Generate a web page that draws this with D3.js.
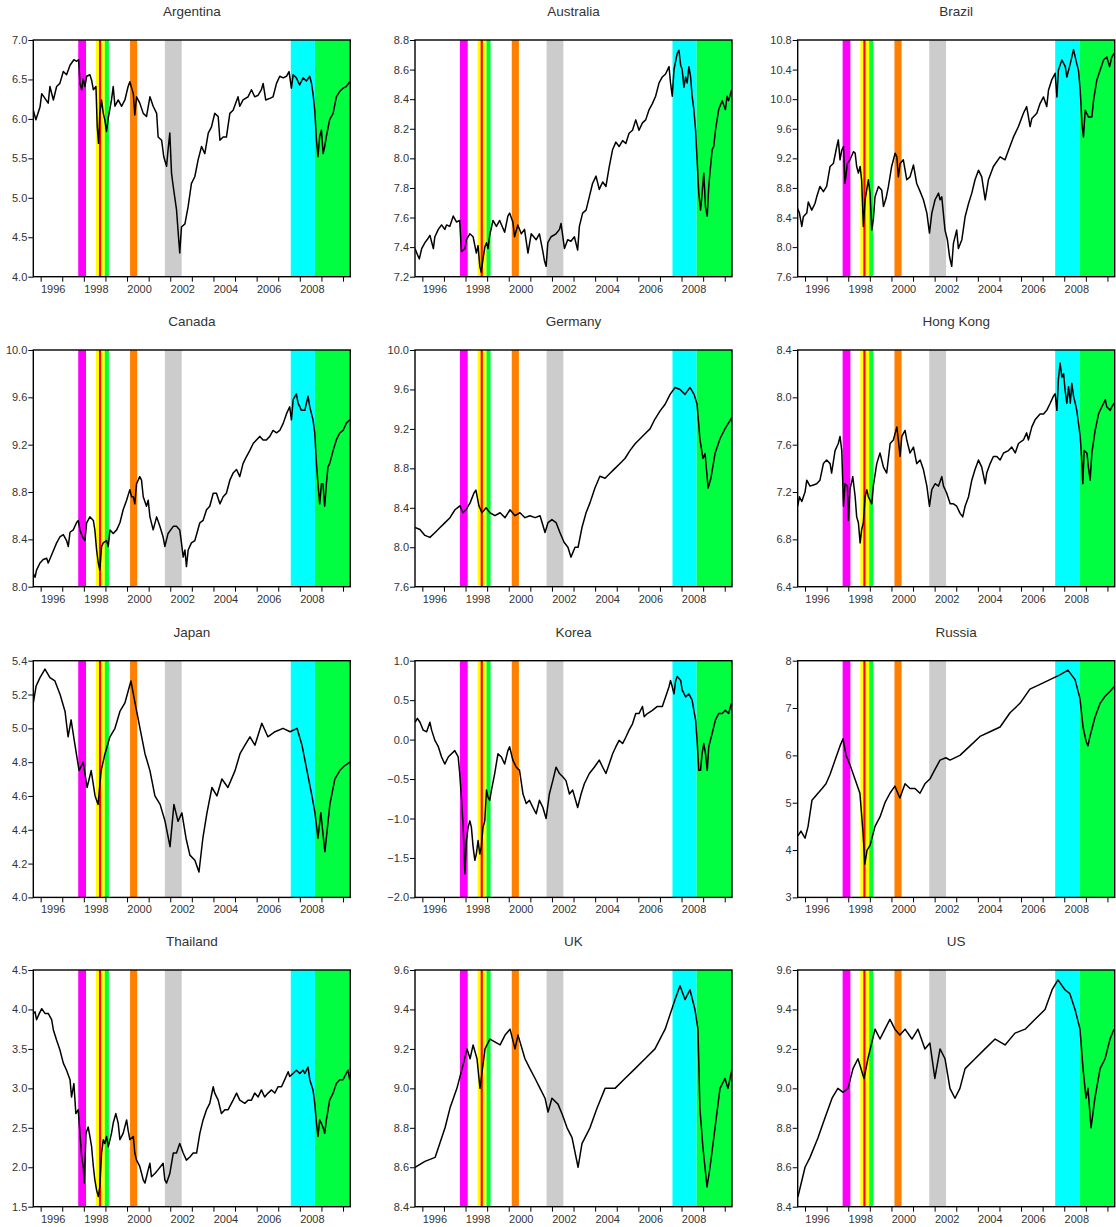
<!DOCTYPE html>
<html>
<head>
<meta charset="utf-8">
<script src="https://cdn.jsdelivr.net/npm/d3@7"></script>
<style>
body { margin: 0; background: #fff; }
svg text { font-family: "Liberation Sans", Arial, sans-serif; }
</style>
</head>
<body>
<svg id="chart" width="1116" height="1227"></svg>
<script>
// ---- data (decimal year, log index level) ----
var countries = ["Argentina", "Australia", "Brazil", "Canada", "Germany", "Hong Kong",
                 "Japan", "Korea", "Russia", "Thailand", "UK", "US"];

var yTicks = [
  [4.0, 4.5, 5.0, 5.5, 6.0, 6.5, 7.0],
  [7.2, 7.4, 7.6, 7.8, 8.0, 8.2, 8.4, 8.6, 8.8],
  [7.6, 8.0, 8.4, 8.8, 9.2, 9.6, 10.0, 10.4, 10.8],
  [8.0, 8.4, 8.8, 9.2, 9.6, 10.0],
  [7.6, 8.0, 8.4, 8.8, 9.2, 9.6, 10.0],
  [6.4, 6.8, 7.2, 7.6, 8.0, 8.4],
  [4.0, 4.2, 4.4, 4.6, 4.8, 5.0, 5.2, 5.4],
  [-2.0, -1.5, -1.0, -0.5, 0.0, 0.5, 1.0],
  [3, 4, 5, 6, 7, 8],
  [1.5, 2.0, 2.5, 3.0, 3.5, 4.0, 4.5],
  [8.4, 8.6, 8.8, 9.0, 9.2, 9.4, 9.6],
  [8.4, 8.6, 8.8, 9.0, 9.2, 9.4, 9.6]
];

var years = [1996, 1997, 1998, 1999, 2000, 2001, 2002, 2003, 2004, 2005, 2006, 2007, 2008, 2009, 2010];
var yearLabels = [1996, 1998, 2000, 2002, 2004, 2006, 2008];

// crisis windows
var bandStart = [1997.74, 1998.56, 1998.70, 1998.97, 2000.14, 2001.75, 2007.58, 2008.70];
var bandEnd   = [1998.10, 1998.97, 1998.80, 1999.16, 2000.47, 2002.53, 2008.70, 2010.40];
var bandColor = ["#ff00ff", "#ffff00", "#ff0000", "#00ff33", "#ff8000", "#cccccc", "#00ffff", "#00ff40"];

var argentina = [[1995.66,6.11],[1995.78,5.99],[1995.97,6.15],[1996.05,6.32],[1996.2,6.26],[1996.35,6.2],[1996.43,6.41],[1996.59,6.24],[1996.74,6.41],[1996.89,6.45],[1997.05,6.6],[1997.2,6.56],[1997.36,6.68],[1997.54,6.75],[1997.66,6.73],[1997.76,6.75],[1997.82,6.45],[1997.9,6.37],[1997.97,6.51],[1998.05,6.41],[1998.13,6.54],[1998.28,6.56],[1998.36,6.49],[1998.44,6.37],[1998.56,6.41],[1998.62,5.9],[1998.68,5.69],[1998.74,6.07],[1998.82,6.24],[1998.9,6.07],[1998.97,5.99],[1999.05,5.84],[1999.13,6.01],[1999.28,6.24],[1999.36,6.41],[1999.44,6.16],[1999.59,6.24],[1999.75,6.16],[1999.9,6.24],[2000.05,6.41],[2000.13,6.47],[2000.29,6.32],[2000.36,6.05],[2000.44,6.28],[2000.59,6.2],[2000.75,6.07],[2000.9,6.03],[2001.06,6.28],[2001.21,6.16],[2001.37,6.07],[2001.44,5.77],[2001.6,5.73],[2001.7,5.52],[2001.83,5.4],[2001.9,5.61],[2001.98,5.82],[2002.06,5.31],[2002.14,5.14],[2002.29,4.85],[2002.37,4.55],[2002.44,4.3],[2002.52,4.63],[2002.68,4.67],[2002.83,4.89],[2002.98,5.18],[2003.14,5.27],[2003.29,5.48],[2003.45,5.65],[2003.6,5.56],[2003.76,5.82],[2003.91,5.9],[2004.06,6.07],[2004.22,6.03],[2004.3,5.73],[2004.45,5.77],[2004.6,5.77],[2004.76,6.07],[2004.91,6.11],[2005.14,6.28],[2005.22,6.16],[2005.37,6.24],[2005.6,6.28],[2005.76,6.37],[2005.91,6.28],[2006.07,6.3],[2006.22,6.37],[2006.3,6.45],[2006.42,6.24],[2006.61,6.26],[2006.76,6.28],[2006.92,6.45],[2007.07,6.54],[2007.23,6.52],[2007.38,6.54],[2007.5,6.6],[2007.61,6.39],[2007.69,6.56],[2007.84,6.52],[2007.99,6.43],[2008.15,6.52],[2008.3,6.48],[2008.46,6.54],[2008.54,6.45],[2008.61,6.32],[2008.69,6.11],[2008.77,5.73],[2008.84,5.52],[2008.92,5.78],[2009.0,5.86],[2009.08,5.56],[2009.15,5.65],[2009.23,5.78],[2009.38,5.99],[2009.54,6.07],[2009.69,6.28],[2009.85,6.35],[2010.0,6.39],[2010.15,6.41],[2010.31,6.47]];

var australia = [[1995.66,7.39],[1995.77,7.35],[1995.86,7.32],[1995.97,7.39],[1996.12,7.43],[1996.27,7.46],[1996.35,7.48],[1996.51,7.39],[1996.58,7.47],[1996.74,7.52],[1996.89,7.55],[1997.04,7.52],[1997.12,7.55],[1997.27,7.54],[1997.43,7.61],[1997.58,7.57],[1997.73,7.58],[1997.81,7.37],[1997.97,7.39],[1998.04,7.45],[1998.2,7.49],[1998.35,7.47],[1998.5,7.36],[1998.58,7.41],[1998.66,7.27],[1998.73,7.23],[1998.81,7.32],[1998.89,7.4],[1998.97,7.43],[1999.04,7.39],[1999.12,7.48],[1999.27,7.58],[1999.43,7.54],[1999.58,7.58],[1999.81,7.5],[1999.96,7.61],[2000.04,7.63],[2000.19,7.57],[2000.27,7.47],[2000.42,7.55],[2000.58,7.49],[2000.73,7.52],[2000.89,7.36],[2001.04,7.49],[2001.27,7.45],[2001.42,7.49],[2001.58,7.37],[2001.65,7.31],[2001.73,7.27],[2001.81,7.43],[2001.96,7.47],[2002.19,7.49],[2002.35,7.52],[2002.42,7.56],[2002.58,7.39],[2002.73,7.45],[2002.88,7.44],[2003.04,7.47],[2003.19,7.38],[2003.27,7.54],[2003.42,7.63],[2003.58,7.65],[2003.73,7.74],[2003.88,7.83],[2004.04,7.88],[2004.19,7.79],[2004.35,7.84],[2004.5,7.81],[2004.65,7.94],[2004.81,8.06],[2004.96,8.11],[2005.11,8.08],[2005.27,8.12],[2005.42,8.1],[2005.57,8.17],[2005.73,8.19],[2005.88,8.26],[2006.03,8.19],[2006.19,8.24],[2006.34,8.26],[2006.5,8.33],[2006.65,8.37],[2006.8,8.42],[2006.96,8.51],[2007.11,8.55],[2007.26,8.57],[2007.42,8.62],[2007.49,8.51],[2007.57,8.42],[2007.65,8.6],[2007.8,8.71],[2007.88,8.73],[2007.96,8.63],[2008.03,8.6],[2008.11,8.48],[2008.19,8.55],[2008.26,8.51],[2008.34,8.62],[2008.42,8.55],[2008.49,8.42],[2008.57,8.33],[2008.65,8.19],[2008.72,7.99],[2008.8,7.76],[2008.88,7.65],[2008.95,7.76],[2009.03,7.9],[2009.11,7.67],[2009.19,7.61],[2009.26,7.81],[2009.34,7.94],[2009.42,8.06],[2009.49,8.08],[2009.57,8.19],[2009.72,8.33],[2009.88,8.39],[2010.03,8.33],[2010.11,8.42],[2010.18,8.39],[2010.31,8.46]];

var brazil = [[1995.66,8.52],[1995.74,8.46],[1995.85,8.28],[1995.92,8.41],[1996.08,8.46],[1996.15,8.61],[1996.31,8.5],[1996.46,8.59],[1996.54,8.68],[1996.69,8.82],[1996.85,8.75],[1997.0,8.82],[1997.16,9.09],[1997.31,9.13],[1997.47,9.36],[1997.54,9.45],[1997.62,9.18],[1997.7,9.31],[1997.78,9.36],[1997.85,8.86],[1997.96,9.13],[1998.08,9.18],[1998.24,9.29],[1998.32,9.27],[1998.39,9.09],[1998.47,9.0],[1998.55,9.09],[1998.62,8.91],[1998.7,8.28],[1998.78,8.64],[1998.93,8.91],[1999.01,8.73],[1999.09,8.23],[1999.16,8.37],[1999.24,8.68],[1999.4,8.82],[1999.55,8.77],[1999.63,8.55],[1999.75,8.66],[1999.86,8.82],[2000.01,9.09],[2000.17,9.27],[2000.25,9.22],[2000.32,8.95],[2000.4,9.13],[2000.55,9.18],[2000.71,8.91],[2000.86,8.95],[2001.02,9.11],[2001.17,8.86],[2001.33,8.75],[2001.48,8.64],[2001.64,8.46],[2001.76,8.19],[2001.87,8.46],[2002.02,8.64],[2002.18,8.73],[2002.25,8.64],[2002.33,8.68],[2002.48,8.23],[2002.59,8.1],[2002.69,7.87],[2002.79,7.74],[2002.87,8.05],[2003.02,8.23],[2003.1,7.98],[2003.26,8.1],[2003.41,8.41],[2003.57,8.59],[2003.72,8.73],[2003.87,8.91],[2004.03,9.04],[2004.18,8.95],[2004.34,8.64],[2004.49,8.91],[2004.72,9.09],[2005.03,9.22],[2005.26,9.18],[2005.42,9.31],[2005.65,9.49],[2005.88,9.63],[2006.11,9.81],[2006.26,9.9],[2006.42,9.63],[2006.5,9.74],[2006.73,9.81],[2006.88,9.94],[2007.04,10.03],[2007.19,9.9],[2007.27,10.12],[2007.42,10.26],[2007.58,10.35],[2007.66,10.03],[2007.73,10.39],[2007.89,10.53],[2008.05,10.44],[2008.12,10.3],[2008.28,10.48],[2008.43,10.67],[2008.58,10.48],[2008.66,10.39],[2008.74,10.12],[2008.82,9.67],[2008.89,9.49],[2008.97,9.85],[2009.12,9.76],[2009.28,9.76],[2009.36,9.99],[2009.51,10.26],[2009.66,10.39],[2009.82,10.53],[2009.97,10.57],[2010.1,10.44],[2010.2,10.57],[2010.31,10.62]];

var canada = [[1995.66,8.11],[1995.74,8.08],[1995.81,8.14],[1995.97,8.2],[1996.12,8.23],[1996.28,8.24],[1996.35,8.2],[1996.51,8.27],[1996.74,8.37],[1996.89,8.42],[1997.05,8.44],[1997.2,8.39],[1997.28,8.34],[1997.36,8.46],[1997.51,8.48],[1997.66,8.54],[1997.74,8.56],[1997.82,8.48],[1997.94,8.42],[1998.05,8.39],[1998.13,8.54],[1998.28,8.59],[1998.44,8.56],[1998.51,8.48],[1998.59,8.31],[1998.67,8.2],[1998.74,8.14],[1998.82,8.34],[1998.9,8.37],[1999.05,8.39],[1999.13,8.34],[1999.21,8.48],[1999.36,8.45],[1999.52,8.48],[1999.67,8.54],[1999.82,8.65],[1999.98,8.73],[2000.13,8.82],[2000.21,8.76],[2000.29,8.76],[2000.36,8.7],[2000.44,8.87],[2000.59,8.93],[2000.67,8.9],[2000.75,8.76],[2000.9,8.68],[2000.98,8.73],[2001.06,8.59],[2001.21,8.48],[2001.37,8.59],[2001.52,8.51],[2001.67,8.42],[2001.75,8.34],[2001.9,8.45],[2002.14,8.51],[2002.29,8.51],[2002.44,8.48],[2002.52,8.37],[2002.6,8.25],[2002.68,8.31],[2002.75,8.17],[2002.83,8.31],[2002.98,8.37],[2003.14,8.39],[2003.37,8.54],[2003.52,8.56],[2003.68,8.65],[2003.83,8.68],[2003.99,8.79],[2004.14,8.79],[2004.3,8.7],[2004.45,8.76],[2004.6,8.79],[2004.76,8.9],[2004.91,8.96],[2005.07,8.99],[2005.22,8.93],[2005.37,9.04],[2005.53,9.1],[2005.68,9.15],[2005.84,9.21],[2005.99,9.24],[2006.15,9.27],[2006.3,9.24],[2006.45,9.24],[2006.61,9.27],[2006.76,9.32],[2006.92,9.3],[2007.07,9.32],[2007.23,9.38],[2007.38,9.46],[2007.53,9.52],[2007.61,9.41],[2007.69,9.58],[2007.84,9.63],[2007.92,9.55],[2008.0,9.52],[2008.07,9.49],[2008.23,9.49],[2008.38,9.61],[2008.46,9.52],[2008.61,9.41],[2008.69,9.3],[2008.77,9.04],[2008.84,8.87],[2008.92,8.7],[2009.0,8.87],[2009.07,8.87],[2009.15,8.68],[2009.23,8.87],[2009.3,9.01],[2009.38,9.04],[2009.54,9.15],[2009.69,9.24],[2009.85,9.3],[2010.0,9.32],[2010.15,9.38],[2010.31,9.41]];

var germany = [[1995.66,8.2],[1995.89,8.18],[1996.12,8.12],[1996.35,8.1],[1996.59,8.15],[1996.82,8.2],[1997.05,8.25],[1997.28,8.3],[1997.51,8.38],[1997.74,8.42],[1997.88,8.35],[1998.02,8.38],[1998.21,8.45],[1998.39,8.55],[1998.48,8.58],[1998.62,8.42],[1998.76,8.35],[1998.95,8.4],[1999.13,8.35],[1999.36,8.32],[1999.6,8.35],[1999.83,8.3],[2000.06,8.38],[2000.29,8.32],[2000.52,8.35],[2000.75,8.3],[2000.98,8.32],[2001.22,8.3],[2001.45,8.32],[2001.68,8.15],[2001.82,8.25],[2002.0,8.28],[2002.19,8.25],[2002.37,8.15],[2002.56,8.05],[2002.74,8.0],[2002.88,7.9],[2003.07,8.0],[2003.21,8.0],[2003.39,8.2],[2003.58,8.35],[2003.76,8.45],[2003.99,8.6],[2004.22,8.72],[2004.46,8.7],[2004.69,8.75],[2004.92,8.8],[2005.15,8.85],[2005.38,8.9],[2005.61,8.98],[2005.85,9.05],[2006.08,9.1],[2006.31,9.15],[2006.54,9.2],[2006.77,9.3],[2007.0,9.38],[2007.24,9.45],[2007.47,9.55],[2007.7,9.62],[2007.93,9.6],[2008.16,9.55],[2008.39,9.62],[2008.58,9.55],[2008.72,9.45],[2008.85,9.1],[2008.99,8.9],[2009.09,8.95],[2009.23,8.6],[2009.36,8.7],[2009.55,8.95],[2009.78,9.1],[2010.01,9.2],[2010.15,9.25],[2010.34,9.32]];

var hongKong = [[1995.66,7.08],[1995.74,7.16],[1995.85,7.12],[1996.0,7.2],[1996.08,7.3],[1996.23,7.25],[1996.39,7.26],[1996.54,7.27],[1996.69,7.3],[1996.85,7.44],[1997.0,7.47],[1997.16,7.44],[1997.23,7.36],[1997.39,7.55],[1997.54,7.61],[1997.62,7.67],[1997.7,7.55],[1997.78,7.08],[1997.85,7.27],[1997.96,7.25],[1998.01,6.96],[1998.08,7.22],[1998.21,7.33],[1998.32,7.16],[1998.39,6.99],[1998.47,6.94],[1998.55,6.77],[1998.62,6.88],[1998.7,6.94],[1998.78,7.16],[1998.86,7.22],[1998.93,7.16],[1999.09,7.1],[1999.16,7.25],[1999.32,7.44],[1999.47,7.53],[1999.63,7.41],[1999.78,7.36],[1999.94,7.61],[2000.09,7.64],[2000.25,7.75],[2000.32,7.64],[2000.4,7.5],[2000.48,7.67],[2000.63,7.72],[2000.71,7.64],[2000.86,7.53],[2001.02,7.58],[2001.17,7.44],[2001.33,7.47],[2001.48,7.39],[2001.64,7.25],[2001.76,7.08],[2001.87,7.22],[2002.02,7.27],[2002.18,7.25],[2002.33,7.33],[2002.41,7.25],[2002.56,7.19],[2002.72,7.1],[2002.87,7.1],[2003.02,7.08],[2003.18,7.02],[2003.3,6.99],[2003.41,7.08],[2003.57,7.16],[2003.72,7.3],[2003.87,7.39],[2004.03,7.47],[2004.18,7.41],[2004.34,7.27],[2004.41,7.36],[2004.57,7.44],[2004.72,7.5],[2004.88,7.5],[2005.03,7.47],[2005.19,7.53],[2005.42,7.55],[2005.57,7.58],[2005.73,7.53],[2005.88,7.61],[2006.11,7.64],[2006.26,7.7],[2006.34,7.64],[2006.5,7.75],[2006.65,7.81],[2006.88,7.86],[2007.04,7.86],[2007.19,7.89],[2007.35,7.95],[2007.5,8.01],[2007.58,8.03],[2007.66,7.89],[2007.73,8.15],[2007.81,8.29],[2007.89,8.17],[2007.97,8.2],[2008.04,8.06],[2008.12,7.95],[2008.2,8.09],[2008.28,7.95],[2008.35,8.12],[2008.43,8.01],[2008.51,7.95],[2008.58,7.89],[2008.66,7.78],[2008.74,7.67],[2008.82,7.44],[2008.86,7.27],[2008.92,7.55],[2009.05,7.53],[2009.12,7.41],[2009.2,7.3],[2009.28,7.53],[2009.43,7.72],[2009.59,7.86],[2009.74,7.92],[2009.9,7.98],[2009.97,7.92],[2010.13,7.89],[2010.2,7.92],[2010.31,7.95]];

var japan = [[1995.66,5.15],[1995.79,5.25],[1995.97,5.3],[1996.2,5.35],[1996.43,5.3],[1996.66,5.28],[1996.9,5.2],[1997.13,5.1],[1997.27,4.95],[1997.41,5.05],[1997.59,4.9],[1997.78,4.75],[1997.97,4.8],[1998.15,4.65],[1998.34,4.75],[1998.52,4.6],[1998.66,4.55],[1998.8,4.75],[1998.98,4.85],[1999.21,4.95],[1999.44,5.0],[1999.67,5.1],[1999.9,5.15],[2000.18,5.28],[2000.37,5.15],[2000.6,5.0],[2000.83,4.85],[2001.06,4.75],[2001.29,4.6],[2001.53,4.55],[2001.76,4.45],[2001.99,4.3],[2002.17,4.55],[2002.36,4.45],[2002.54,4.5],[2002.73,4.35],[2002.91,4.25],[2003.14,4.22],[2003.33,4.15],[2003.51,4.35],[2003.7,4.5],[2003.93,4.65],[2004.16,4.6],[2004.39,4.7],[2004.67,4.65],[2005.0,4.75],[2005.23,4.85],[2005.46,4.9],[2005.69,4.95],[2005.92,4.9],[2006.24,5.03],[2006.52,4.95],[2006.85,4.98],[2007.22,5.0],[2007.55,4.98],[2007.87,5.0],[2008.1,4.9],[2008.33,4.75],[2008.56,4.6],[2008.7,4.5],[2008.84,4.35],[2008.97,4.5],[2009.16,4.27],[2009.39,4.55],[2009.62,4.7],[2009.85,4.75],[2010.08,4.78],[2010.32,4.8]];

var korea = [[1995.66,0.22],[1995.77,0.27],[1995.89,0.22],[1996.04,0.12],[1996.2,0.1],[1996.35,0.22],[1996.43,0.12],[1996.58,-0.01],[1996.74,-0.09],[1996.89,-0.22],[1997.04,-0.31],[1997.2,-0.22],[1997.35,-0.18],[1997.5,-0.14],[1997.66,-0.22],[1997.73,-0.43],[1997.81,-0.73],[1997.89,-1.11],[1997.97,-1.7],[1998.04,-1.28],[1998.12,-1.11],[1998.2,-1.03],[1998.27,-1.11],[1998.35,-1.36],[1998.43,-1.53],[1998.5,-1.45],[1998.58,-1.28],[1998.66,-1.45],[1998.73,-1.36],[1998.81,-1.11],[1998.89,-1.03],[1998.97,-0.64],[1999.04,-0.73],[1999.12,-0.77],[1999.2,-0.64],[1999.35,-0.43],[1999.5,-0.18],[1999.66,-0.22],[1999.81,-0.31],[1999.96,-0.14],[2000.04,-0.09],[2000.19,-0.26],[2000.35,-0.35],[2000.5,-0.39],[2000.66,-0.69],[2000.81,-0.81],[2000.96,-0.77],[2001.12,-0.86],[2001.27,-0.94],[2001.42,-0.77],[2001.58,-0.86],[2001.73,-1.0],[2001.88,-0.69],[2002.04,-0.52],[2002.19,-0.35],[2002.35,-0.43],[2002.5,-0.47],[2002.65,-0.52],[2002.81,-0.69],[2002.96,-0.64],[2003.19,-0.86],[2003.35,-0.69],[2003.5,-0.56],[2003.73,-0.43],[2003.96,-0.35],[2004.19,-0.26],[2004.35,-0.35],[2004.5,-0.43],[2004.65,-0.31],[2004.81,-0.18],[2004.96,-0.09],[2005.11,-0.01],[2005.27,-0.05],[2005.42,0.03],[2005.57,0.12],[2005.73,0.2],[2005.88,0.33],[2006.03,0.33],[2006.19,0.42],[2006.27,0.29],[2006.42,0.33],[2006.65,0.37],[2006.88,0.42],[2007.11,0.42],[2007.26,0.54],[2007.42,0.67],[2007.49,0.75],[2007.57,0.67],[2007.65,0.58],[2007.73,0.75],[2007.8,0.8],[2007.96,0.75],[2008.03,0.63],[2008.19,0.54],[2008.34,0.58],[2008.49,0.5],[2008.57,0.37],[2008.65,0.25],[2008.72,-0.01],[2008.8,-0.39],[2008.88,-0.39],[2008.95,-0.18],[2009.03,-0.05],[2009.11,-0.18],[2009.19,-0.39],[2009.26,-0.09],[2009.42,0.08],[2009.57,0.25],[2009.72,0.33],[2009.88,0.33],[2010.03,0.37],[2010.18,0.33],[2010.31,0.46]];

var russia = [[1995.67,4.3],[1995.81,4.4],[1996.0,4.25],[1996.14,4.5],[1996.32,5.05],[1996.6,5.2],[1996.79,5.3],[1996.97,5.4],[1997.16,5.6],[1997.39,5.9],[1997.62,6.2],[1997.76,6.35],[1997.9,6.0],[1998.08,5.8],[1998.31,5.5],[1998.54,5.2],[1998.68,4.4],[1998.77,3.7],[1998.87,4.0],[1999.01,4.1],[1999.24,4.5],[1999.47,4.7],[1999.7,5.0],[1999.93,5.2],[2000.16,5.35],[2000.39,5.1],[2000.63,5.4],[2000.86,5.3],[2001.09,5.3],[2001.32,5.2],[2001.55,5.4],[2001.78,5.5],[2002.01,5.7],[2002.25,5.9],[2002.52,5.95],[2002.71,5.9],[2003.17,6.0],[2003.64,6.2],[2004.1,6.4],[2004.56,6.5],[2005.03,6.6],[2005.49,6.9],[2005.95,7.1],[2006.41,7.4],[2006.88,7.5],[2007.34,7.6],[2007.8,7.7],[2008.17,7.8],[2008.5,7.6],[2008.73,7.2],[2008.87,6.6],[2009.01,6.3],[2009.1,6.2],[2009.19,6.4],[2009.42,6.8],[2009.66,7.1],[2009.89,7.25],[2010.12,7.35],[2010.3,7.45]];

var thailand = [[1995.66,3.95],[1995.74,3.97],[1995.81,3.87],[1995.94,3.95],[1996.05,4.01],[1996.2,3.95],[1996.35,3.95],[1996.51,3.87],[1996.59,3.74],[1996.74,3.61],[1996.89,3.49],[1997.05,3.32],[1997.2,3.23],[1997.36,3.11],[1997.43,2.89],[1997.54,3.06],[1997.63,2.68],[1997.74,2.73],[1997.82,2.43],[1997.9,2.13],[1997.97,2.01],[1998.02,1.8],[1998.1,2.43],[1998.2,2.51],[1998.28,2.39],[1998.36,2.26],[1998.44,2.01],[1998.51,1.84],[1998.59,1.71],[1998.67,1.63],[1998.74,1.75],[1998.82,2.18],[1998.9,2.35],[1998.97,2.3],[1999.05,2.39],[1999.13,2.26],[1999.28,2.43],[1999.36,2.56],[1999.48,2.68],[1999.59,2.56],[1999.67,2.35],[1999.82,2.43],[1999.98,2.6],[2000.05,2.47],[2000.13,2.35],[2000.29,2.39],[2000.36,2.18],[2000.44,2.09],[2000.59,2.01],[2000.75,1.84],[2000.83,1.8],[2000.98,1.97],[2001.06,2.05],[2001.13,1.88],[2001.29,1.92],[2001.44,1.97],[2001.67,2.05],[2001.75,1.84],[2001.83,1.8],[2001.98,1.92],[2002.14,2.18],[2002.29,2.18],[2002.44,2.3],[2002.6,2.18],[2002.75,2.09],[2002.91,2.13],[2003.06,2.18],[2003.22,2.18],[2003.37,2.43],[2003.52,2.6],[2003.68,2.73],[2003.83,2.81],[2003.99,3.02],[2004.06,2.94],[2004.22,2.85],[2004.37,2.68],[2004.53,2.73],[2004.68,2.73],[2004.91,2.85],[2005.07,2.94],[2005.22,2.85],[2005.45,2.81],[2005.6,2.85],[2005.76,2.85],[2005.91,2.94],[2006.07,2.89],[2006.22,2.98],[2006.37,2.89],[2006.53,2.94],[2006.69,2.98],[2006.84,2.94],[2006.99,3.02],[2007.15,3.02],[2007.3,3.11],[2007.46,3.21],[2007.53,3.15],[2007.69,3.19],[2007.84,3.23],[2008.0,3.19],[2008.15,3.23],[2008.23,3.19],[2008.38,3.27],[2008.46,3.11],[2008.61,2.98],[2008.69,2.81],[2008.77,2.56],[2008.84,2.39],[2008.92,2.6],[2009.07,2.51],[2009.15,2.43],[2009.23,2.6],[2009.38,2.85],[2009.54,2.94],[2009.69,3.06],[2009.85,3.11],[2010.0,3.11],[2010.15,3.19],[2010.23,3.23],[2010.31,3.11]];

var uk = [[1995.66,8.6],[1996.12,8.63],[1996.59,8.65],[1997.05,8.8],[1997.28,8.9],[1997.6,9.0],[1997.84,9.1],[1998.07,9.2],[1998.21,9.15],[1998.35,9.22],[1998.53,9.15],[1998.67,9.0],[1998.9,9.2],[1999.13,9.25],[1999.6,9.22],[1999.83,9.27],[2000.06,9.3],[2000.29,9.2],[2000.43,9.27],[2000.75,9.15],[2000.98,9.1],[2001.22,9.05],[2001.45,9.0],[2001.68,8.95],[2001.82,8.88],[2002.0,8.95],[2002.28,8.92],[2002.47,8.87],[2002.7,8.8],[2002.93,8.75],[2003.21,8.6],[2003.39,8.72],[2003.76,8.8],[2004.09,8.9],[2004.46,9.0],[2004.92,9.0],[2005.38,9.05],[2005.85,9.1],[2006.31,9.15],[2006.77,9.2],[2007.24,9.3],[2007.7,9.45],[2007.93,9.52],[2008.16,9.45],[2008.39,9.5],[2008.62,9.4],[2008.76,9.3],[2008.85,8.9],[2008.99,8.7],[2009.18,8.5],[2009.32,8.6],[2009.55,8.8],[2009.78,9.0],[2010.01,9.05],[2010.15,9.0],[2010.34,9.1]];

var us = [[1995.67,8.45],[1996.0,8.6],[1996.23,8.65],[1996.6,8.75],[1996.92,8.85],[1997.25,8.95],[1997.52,9.0],[1997.76,8.98],[1997.99,9.0],[1998.22,9.1],[1998.45,9.15],[1998.73,9.05],[1998.91,9.15],[1999.24,9.3],[1999.47,9.25],[1999.7,9.3],[1999.93,9.35],[2000.16,9.3],[2000.39,9.27],[2000.63,9.3],[2000.95,9.25],[2001.23,9.3],[2001.55,9.2],[2001.78,9.23],[2002.01,9.05],[2002.25,9.2],[2002.48,9.15],[2002.71,9.0],[2002.94,8.95],[2003.17,9.0],[2003.41,9.1],[2003.87,9.15],[2004.33,9.2],[2004.8,9.25],[2005.26,9.22],[2005.72,9.28],[2006.19,9.3],[2006.65,9.35],[2007.11,9.4],[2007.44,9.5],[2007.71,9.55],[2008.03,9.5],[2008.26,9.48],[2008.5,9.4],[2008.73,9.3],[2008.87,9.1],[2009.01,8.95],[2009.1,9.0],[2009.24,8.8],[2009.42,8.95],[2009.66,9.1],[2009.89,9.15],[2010.12,9.25],[2010.3,9.3]];

var series = [argentina, australia, brazil, canada, germany, hongKong,
              japan, korea, russia, thailand, uk, us];

// ---- layout ----
var svg = d3.select("#chart");
var colLeft = [33.3, 415, 797.7];
var rowTop = [40, 350, 660.7, 970];
var pw = 317, ph = 236.7;

var x = d3.scaleLinear().domain([1995.66, 2010.336]).range([0, pw]);

countries.forEach(function(name, i) {
  var g = svg.append("g")
    .attr("transform", "translate(" + colLeft[i % 3] + "," + rowTop[Math.floor(i / 3)] + ")");

  var ticks = yTicks[i];
  var y = d3.scaleLinear()
    .domain([ticks[0], ticks[ticks.length - 1]])
    .range([ph, 0]);
  var intTicks = Math.abs(ticks[1] - ticks[0]) >= 1;
  var fmt = d3.format(intTicks ? ".0f" : ".1f");

  g.append("clipPath").attr("id", "clip" + i)
    .append("rect").attr("width", pw).attr("height", ph);

  // crisis bands
  g.selectAll(".band")
    .data(bandStart)
    .enter().append("rect")
    .attr("class", "band")
    .attr("x", function(d) { return x(d); })
    .attr("y", 0)
    .attr("width", function(d, j) { return x(Math.min(bandEnd[j], x.domain()[1])) - x(d); })
    .attr("height", ph)
    .style("fill", function(d, j) { return bandColor[j]; });

  var line = d3.line()
    .x(function(d) { return x(d[0]); })
    .y(function(d) { return y(d[1]); });

  g.append("path")
    .datum(series[i])
    .attr("clip-path", "url(#clip" + i + ")")
    .attr("d", line)
    .attr("fill", "none")
    .attr("stroke", "#000")
    .attr("stroke-width", 1.5)
    .attr("stroke-linejoin", "round");

  // axes
  var ya = g.append("g")
    .call(d3.axisLeft(y).tickValues(ticks).tickSize(5).tickPadding(1).tickFormat(fmt));
  ya.select(".domain").remove();
  ya.selectAll("line").attr("stroke", "#000");
  ya.selectAll("text").attr("fill", "#333").style("font-size", "11px");

  var xa = g.append("g")
    .attr("transform", "translate(0," + ph + ")")
    .call(d3.axisBottom(x).tickValues(years).tickSize(5).tickFormat(""));
  xa.select(".domain").remove();
  xa.selectAll("line").attr("stroke", "#000");

  g.selectAll(".xlab")
    .data(yearLabels)
    .enter().append("text")
    .attr("class", "xlab")
    .attr("x", function(d) { return x(d + 0.58); })
    .attr("y", ph + 16)
    .attr("text-anchor", "middle")
    .attr("fill", "#333")
    .style("font-size", "11px")
    .text(function(d) { return d; });

  g.append("rect")
    .attr("width", pw)
    .attr("height", ph)
    .attr("fill", "none")
    .attr("stroke", "#000")
    .attr("stroke-width", 1.4);

  g.append("text")
    .attr("x", pw / 2)
    .attr("y", -24)
    .attr("text-anchor", "middle")
    .attr("fill", "#333")
    .style("font-size", "13.5px")
    .text(name);
});
</script>
</body>
</html>
